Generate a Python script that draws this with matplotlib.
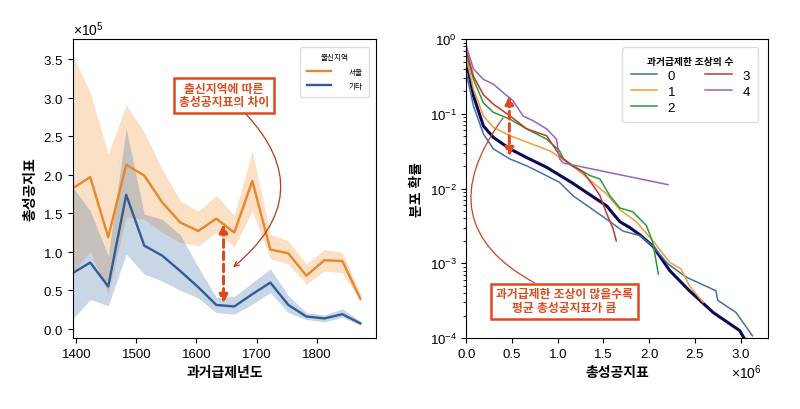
import numpy as np
import matplotlib
matplotlib.use("Agg")
import matplotlib.pyplot as plt

plt.rcParams['font.family'] = ['Liberation Sans', 'Noto Sans CJK KR', 'DejaVu Sans']
plt.rcParams['mathtext.fontset'] = 'custom'
plt.rcParams['mathtext.rm'] = 'Liberation Sans'
plt.rcParams['mathtext.it'] = 'Liberation Sans:italic'
plt.rcParams['mathtext.bf'] = 'Liberation Sans:bold'
plt.rcParams['axes.unicode_minus'] = False

# ---- left panel data (values in units of 1e5) ----
years = [1393, 1423, 1453, 1483, 1513, 1543, 1573, 1603, 1633, 1663, 1693, 1723, 1753, 1783, 1813, 1843, 1873]
seoul_mean = [1.82, 1.97, 1.19, 2.13, 1.99, 1.64, 1.38, 1.27, 1.43, 1.25, 1.92, 1.03, 0.98, 0.69, 0.89, 0.88, 0.39]
seoul_hi = [3.57, 3.07, 2.27, 2.91, 2.55, 2.07, 1.66, 1.53, 1.73, 1.47, 2.31, 1.23, 1.14, 0.84, 1.03, 0.99, 0.45]
seoul_lo = [0.72, 1.00, 0.45, 1.45, 1.42, 1.25, 1.12, 1.08, 1.25, 1.06, 1.53, 0.91, 0.84, 0.58, 0.75, 0.73, 0.36]
other_mean = [0.72, 0.86, 0.55, 1.74, 1.08, 0.95, 0.75, 0.54, 0.31, 0.29, 0.45, 0.60, 0.31, 0.16, 0.135, 0.19, 0.07]
other_hi = [1.85, 1.53, 0.95, 2.60, 1.49, 1.42, 1.22, 0.80, 0.41, 0.42, 0.60, 0.78, 0.43, 0.21, 0.18, 0.26, 0.10]
other_lo = [0.12, 0.38, 0.30, 0.97, 0.71, 0.62, 0.50, 0.40, 0.21, 0.19, 0.32, 0.47, 0.21, 0.12, 0.09, 0.15, 0.05]
SCALE = 1e5

# ---- right panel data (x in units of 1e6) ----
all_x = [0.0, 0.077, 0.186, 0.295, 0.477, 0.66, 0.878, 1.15, 1.533, 1.68, 1.79, 1.9, 2.04, 2.225, 2.44, 2.70, 2.99, 3.06]
all_y = [0.5, 0.175, 0.069, 0.0485, 0.034, 0.026, 0.0193, 0.0121, 0.0059, 0.0036, 0.0030, 0.0024, 0.0017, 0.0008, 0.00043, 0.00022, 0.000126, 0.00009]

c0_x = [0.0, 0.077, 0.186, 0.295, 0.477, 0.66, 0.84, 1.02, 1.168, 1.533, 1.715, 1.897, 2.04, 2.206, 2.41, 2.73, 2.75, 2.95, 3.13]
c0_y = [0.35, 0.128, 0.054, 0.034, 0.0249, 0.0202, 0.0157, 0.0121, 0.008, 0.0039, 0.0027, 0.00235, 0.0017, 0.00098, 0.00065, 0.00043, 0.00032, 0.00022, 0.000107]

c1_x = [0.0, 0.077, 0.186, 0.295, 0.477, 0.66, 0.914, 1.168, 1.533, 1.68, 1.86, 2.04, 2.225, 2.35, 2.44, 2.59]
c1_y = [0.55, 0.215, 0.094, 0.066, 0.051, 0.042, 0.032, 0.02, 0.0085, 0.0052, 0.0036, 0.002, 0.00103, 0.00084, 0.0005, 0.0003]

c2_x = [0.0, 0.077, 0.186, 0.295, 0.477, 0.66, 0.878, 1.02, 1.06, 1.205, 1.35, 1.46, 1.57, 1.68, 1.82, 1.97, 2.04, 2.10]
c2_y = [0.65, 0.29, 0.14, 0.105, 0.085, 0.063, 0.046, 0.032, 0.025, 0.019, 0.015, 0.0135, 0.008, 0.0055, 0.0049, 0.0032, 0.0019, 0.00072]

c3_x = [0.0, 0.077, 0.186, 0.295, 0.477, 0.66, 0.878, 1.02, 1.13, 1.28, 1.387, 1.46, 1.53, 1.605, 1.64]
c3_y = [0.7, 0.32, 0.18, 0.135, 0.094, 0.063, 0.051, 0.028, 0.021, 0.0165, 0.011, 0.0081, 0.0048, 0.0029, 0.002]

c4_x = [0.0, 0.077, 0.186, 0.295, 0.40, 0.51, 0.62, 0.73, 0.878, 0.985, 1.02, 1.06, 2.205]
c4_y = [0.8, 0.4, 0.29, 0.25, 0.194, 0.15, 0.094, 0.081, 0.063, 0.046, 0.025, 0.022, 0.0113]

RED = '#dd4a1e'

fig = plt.figure(figsize=(8, 4.1), dpi=100)
ax1 = fig.add_axes([0.091, 0.173, 0.379, 0.729])
ax2 = fig.add_axes([0.583, 0.173, 0.377, 0.729])

# ---- left ----
yr = np.array(years)
orange = '#e8862a'
blue = '#2e5e97'
ax1.fill_between(yr, np.array(seoul_lo) * SCALE, np.array(seoul_hi) * SCALE, color='#f28e2b', alpha=0.27, lw=0)
ax1.fill_between(yr, np.array(other_lo) * SCALE, np.array(other_hi) * SCALE, color='#3a6ea8', alpha=0.28, lw=0)
ax1.plot(yr, np.array(seoul_mean) * SCALE, color=orange, lw=1.7, label='서울')
ax1.plot(yr, np.array(other_mean) * SCALE, color=blue, lw=1.7, label='기타')
ax1.set_xlim(1394, 1899)
ax1.set_ylim(-0.12 * SCALE, 3.76 * SCALE)
ax1.set_xticks([1400, 1500, 1600, 1700, 1800])
ax1.set_yticks(np.arange(0, 3.6, 0.5) * SCALE)
ax1.ticklabel_format(axis='y', style='sci', scilimits=(0, 0), useMathText=True)
ax1.tick_params(labelsize=9.5)
ax1.yaxis.get_offset_text().set_fontsize(10)
ax1.set_xlabel('과거급제년도', fontsize=10, fontweight='bold')
ax1.set_ylabel('총성공지표', fontsize=10, fontweight='bold')
leg1 = ax1.legend(title='출신지역', loc='upper right', fontsize=5.5, title_fontsize=5.5,
                  handlelength=3.2, handletextpad=2.2, borderpad=0.9, labelspacing=0.9,
                  fancybox=True, framealpha=1, edgecolor='#dddddd',
                  bbox_to_anchor=(0.99, 0.985))

ax1.annotate('', xy=(1645, 0.33 * SCALE), xytext=(1645, 1.36 * SCALE),
             arrowprops=dict(arrowstyle='<|-|>', color=RED, lw=2.2, ls=(0, (2.5, 1.5)),
                             mutation_scale=12, shrinkA=0, shrinkB=0))
ax1.annotate('출신지역에 따른\n총성공지표의 차이', xy=(1661, 0.80 * SCALE), xytext=(1646, 3.03 * SCALE),
             ha='center', va='center', fontsize=8.5, fontweight='bold', color=RED,
             bbox=dict(boxstyle='square,pad=0.4', fc='white', ec=RED, lw=1.8),
             arrowprops=dict(arrowstyle='->', color='#b83a18', lw=0.9,
                             connectionstyle='arc3,rad=-0.55', shrinkA=0, shrinkB=0,
                             relpos=(0.68, 0.0)))

# ---- right ----
ax2.plot(all_x, all_y, color='#0b0b55', lw=2.2)
ax2.plot(c0_x, c0_y, color='#3f73a8', lw=1.1, label='0')
ax2.plot(c1_x, c1_y, color='#f39c3c', lw=1.1, label='1')
ax2.plot(c2_x, c2_y, color='#2a9a3a', lw=1.1, label='2')
ax2.plot(c3_x, c3_y, color='#c0392b', lw=1.1, label='3')
ax2.plot(c4_x, c4_y, color='#9b62bd', lw=1.1, label='4')
ax2.set_yscale('log')
ax2.set_ylim(1e-4, 1)
ax2.set_xlim(0, 3.3)
ax2.set_xticks([0, 0.5, 1.0, 1.5, 2.0, 2.5, 3.0])
ax2.set_xticklabels(['0.0', '0.5', '1.0', '1.5', '2.0', '2.5', '3.0'])
ax2.tick_params(labelsize=9.5)
ax2.text(0.98, -0.08, r'$\times\mathdefault{10^{6}}$', transform=ax2.transAxes,
         ha='right', va='top', fontsize=10)
ax2.set_xlabel('총성공지표', fontsize=10, fontweight='bold')
ax2.set_ylabel('분포 확률', fontsize=10, fontweight='bold')
leg2 = ax2.legend(title='과거급제한 조상의 수', loc='upper right', ncol=2, fontsize=9.5,
                  title_fontsize=7, handlelength=2.0, handletextpad=0.8, columnspacing=2.3,
                  labelspacing=0.28, borderpad=0.65, fancybox=True, framealpha=1,
                  edgecolor='#dddddd', bbox_to_anchor=(0.99, 0.995))
leg2.get_title().set_fontweight('bold')

ax2.annotate('', xy=(0.47, 0.027), xytext=(0.47, 0.175),
             arrowprops=dict(arrowstyle='<|-|>', color=RED, lw=2.2, ls=(0, (2.5, 1.5)),
                             mutation_scale=12, shrinkA=0, shrinkB=0))
ax2.annotate('과거급제한 조상이 많을수록\n평균 총성공지표가 큼', xy=(0.40, 0.088), xytext=(1.075, 3.1e-4),
             ha='center', va='center', fontsize=8.5, fontweight='bold', color=RED,
             bbox=dict(boxstyle='square,pad=0.4', fc='white', ec=RED, lw=1.8),
             arrowprops=dict(arrowstyle='-', color='#c8461c', lw=0.9,
                             connectionstyle='arc3,rad=-0.6', shrinkA=0, shrinkB=0,
                             relpos=(0.36, 1.0)))

fig.savefig('out.png', dpi=100)
